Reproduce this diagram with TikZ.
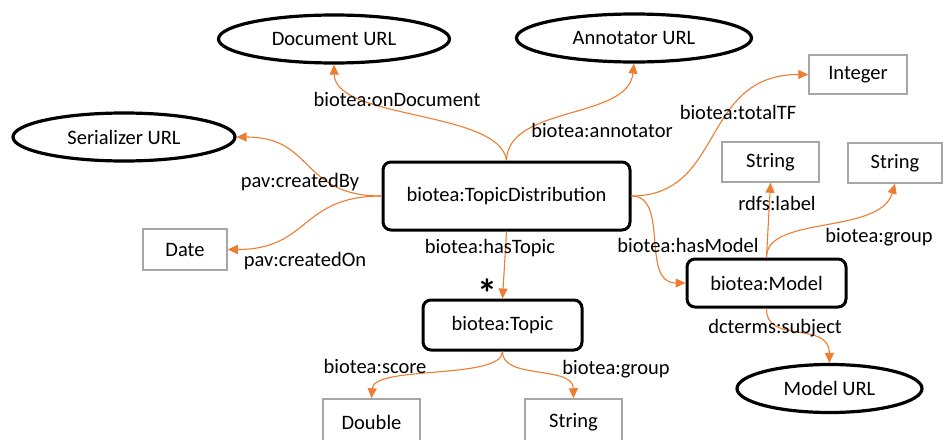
\documentclass[tikz,border=0pt]{standalone}
\usepackage{fontspec}
\setmainfont{Carlito}
\usetikzlibrary{shapes.geometric,arrows.meta}
\definecolor{edgeorange}{HTML}{ED7D31}
\definecolor{boxgray}{HTML}{A6A6A6}
\begin{document}
\begin{tikzpicture}[x=1pt,y=-1pt,
  every node/.style={font=\fontsize{20.5}{24}\selectfont, inner sep=0pt},
  urlnode/.style={ellipse, draw=black, line width=3.2pt, minimum width=#1, minimum height=48pt},
  classnode/.style={rectangle, rounded corners=8pt, draw=black, line width=3pt},
  litnode/.style={rectangle, draw=boxgray, line width=1.5pt, minimum height=40pt},
  rel/.style={draw=edgeorange, line width=1.1pt, -{Triangle[length=10pt,width=9pt]}},
  lbl/.style={fill=none}
]
\useasboundingbox (0,0) rectangle (944,439);
% URL ellipses
\node[urlnode=231pt] (doc) at (334,39) {Document URL};
\node[urlnode=235pt] (ann) at (634,38) {Annotator URL};
\node[urlnode=222pt] (ser) at (124,137) {Serializer URL};
\node[urlnode=185pt] (murl) at (829.5,388.5) {Model URL};
% classes
\node[classnode, minimum width=247pt, minimum height=68pt] (td) at (506.5,196) {biotea:TopicDistribution};
\node[classnode, minimum width=159pt, minimum height=50pt] (topic) at (502.5,325) {biotea:Topic};
\node[classnode, minimum width=159pt, minimum height=48pt] (model) at (766.5,283) {biotea:Model};
% literals
\node[litnode, minimum width=84pt, minimum height=41pt] (date) at (185,249.5) {Date};
\node[litnode, minimum width=98pt, minimum height=39pt] (int) at (858,74.5) {Integer};
\node[litnode, minimum width=97pt] (slabel) at (770.5,162) {String};
\node[litnode, minimum width=94pt] (sgroup) at (895,163) {String};
\node[litnode, minimum width=97pt, minimum height=46pt] (dbl) at (371.5,422) {Double};
\node[litnode, minimum width=97pt, minimum height=46pt] (tstr) at (573.5,422) {String};
% edges
\draw[rel] (td.north) .. controls (500,110) and (335,120) .. (doc.south);
\draw[rel] (td.north) .. controls (508,105) and (628,120) .. (ann.south);
\draw[rel] (td.west) .. controls (300,196) and (315,137) .. (ser.east);
\draw[rel] (td.west) .. controls (300,196) and (310,249.5) .. (date.east);
\draw[rel] (td.east) .. controls (725,196) and (700,74.5) .. (int.west);
\draw[rel] (td.east) .. controls (670,196) and (640,283) .. (model.west);
\draw[rel] (td.south) -- (topic.north);
\draw[rel] (model.north) -- (slabel.south);
\draw[rel] (model.north) .. controls (766,215) and (880,235) .. (sgroup.south);
\draw[rel] (model.south) .. controls (766,345) and (829,320) .. (murl.north);
\draw[rel] (topic.south) .. controls (502,380) and (374,365) .. (dbl.north);
\draw[rel] (topic.south) .. controls (502,380) and (573,365) .. (tstr.north);
% labels
\node[lbl] (l1) at (397,99) {biotea:onDocument};
\node[lbl] (l2) at (602,130) {biotea:annotator};
\node[lbl] (l3) at (738,112) {biotea:totalTF};
\node[lbl] (l4) at (300,182) {pav:createdBy};
\node[lbl] (l5) at (305,261) {pav:createdOn};
\node[lbl] (l6) at (490,248) {biotea:hasTopic};
\node[lbl] (l7) at (688,245) {biotea:hasModel};
\node[lbl] (l8) at (777,203) {rdfs:label};
\node[lbl] (l9) at (879,237) {biotea:group};
\node[lbl] (l10) at (775,328) {dcterms:subject};
\node[lbl] (l11) at (375,366) {biotea:score};
\node[lbl] (l12) at (616,369) {biotea:group};
\node (star) at (487,293) {\fontsize{40}{40}\selectfont\bfseries *};
\end{tikzpicture}
\end{document}
